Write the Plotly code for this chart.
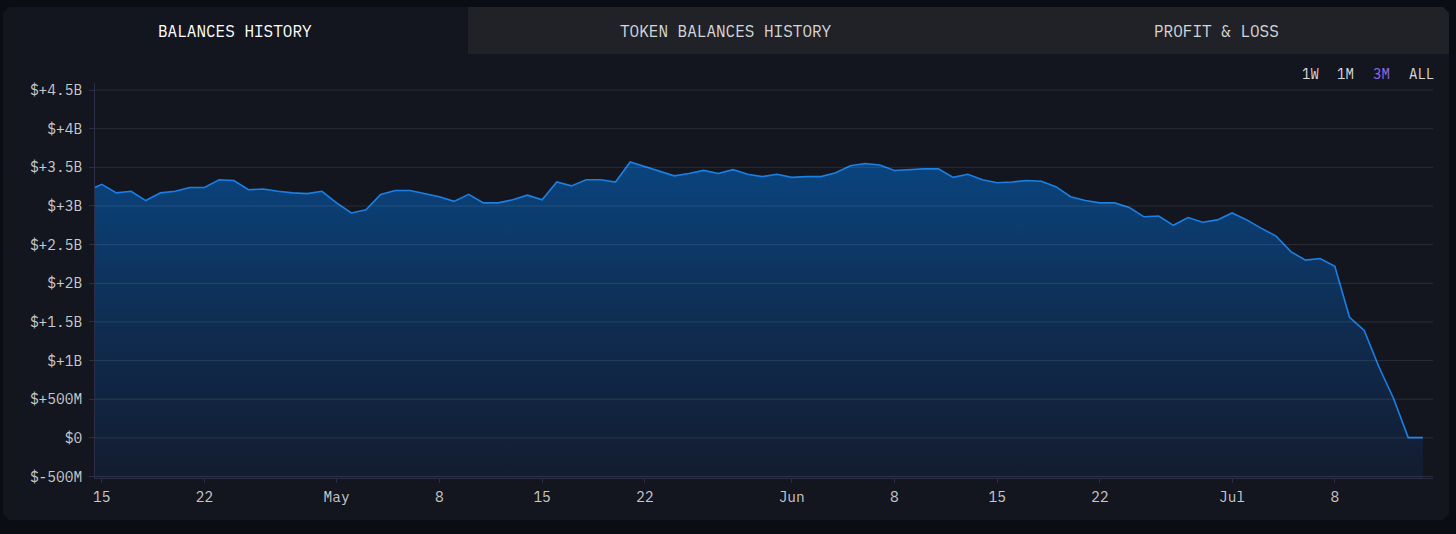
import pandas as pd
import plotly.graph_objects as go

# ---------------- data ----------------
first_point = ["2023-04-14 13:00"]
daily_points = [d.strftime("%Y-%m-%d") for d in pd.date_range("2023-04-15", "2023-07-14", freq="D")]
dates = first_point + daily_points

balance_billions = [
    3.24, 3.28, 3.17, 3.19, 3.07, 3.17, 3.19, 3.24, 3.24, 3.34,
    3.33, 3.21, 3.22, 3.19, 3.17, 3.16, 3.19, 3.04, 2.91, 2.95,
    3.15, 3.20, 3.20, 3.16, 3.12, 3.06, 3.15, 3.04, 3.04, 3.08,
    3.14, 3.08, 3.31, 3.26, 3.34, 3.34, 3.31, 3.57, 3.51, 3.46,
    3.39, 3.42, 3.46, 3.42, 3.47, 3.41, 3.38, 3.41, 3.37, 3.38,
    3.38, 3.43, 3.52, 3.55, 3.53, 3.46, 3.47, 3.48, 3.48, 3.37,
    3.41, 3.34, 3.30, 3.31, 3.33, 3.32, 3.25, 3.12, 3.07, 3.04,
    3.04, 2.98, 2.86, 2.87, 2.75, 2.85, 2.79, 2.82, 2.91, 2.82,
    2.71, 2.61, 2.41, 2.30, 2.32, 2.22, 1.56, 1.39, 0.92, 0.51,
    0.003, 0.003,
]
balances = [v * 1e9 for v in balance_billions]

y_tickvals = [-0.5e9, 0, 0.5e9, 1e9, 1.5e9, 2e9, 2.5e9, 3e9, 3.5e9, 4e9, 4.5e9]
y_ticktext = ["$-500M", "$0", "$+500M", "$+1B", "$+1.5B", "$+2B", "$+2.5B",
              "$+3B", "$+3.5B", "$+4B", "$+4.5B"]

x_tickvals = ["2023-04-15", "2023-04-22", "2023-05-01", "2023-05-08", "2023-05-15",
              "2023-05-22", "2023-06-01", "2023-06-08", "2023-06-15", "2023-06-22",
              "2023-07-01", "2023-07-08"]
x_ticktext = ["15", "22", "May", "8", "15", "22", "Jun", "8", "15", "22", "Jul", "8"]

tabs = ["BALANCES HISTORY", "TOKEN BALANCES HISTORY", "PROFIT & LOSS"]
ranges = ["1W", "1M", "3M", "ALL"]

# ---------------- layout geometry ----------------
W, H = 1456, 534
L, R, T, B = 95, 1433, 83, 478
Y_MIN, Y_MAX = -0.519e9, 4.591e9
FONT = "IBM Plex Mono, DejaVu Sans Mono, monospace"

OUTER_BG = "#0b0d15"
PANEL_BG = "#14161f"
TAB_BG = "#212227"
AXIS_COL = "#2c2e48"


def px(x):
    return (x - L) / (R - L)


def py(y):
    return (B - y) / (B - T)


def path(points):
    s = "M " + " L ".join(f"{px(x):.6f},{py(y):.6f}" for x, y in points) + " Z"
    return s


c = 6
panel_pts = [(3 + c, 7), (1449 - c, 7), (1449, 7 + c), (1449, 520 - c),
             (1449 - c, 520), (3 + c, 520), (3, 520 - c), (3, 7 + c)]
tabbar_pts = [(468, 7), (1449 - c, 7), (1449, 7 + c), (1449, 54), (468, 54)]

fig = go.Figure()

# baseline at the bottom of the plot so the area fills to the pane bottom
fig.add_trace(go.Scatter(
    x=dates, y=[Y_MIN] * len(dates), mode="lines",
    line=dict(width=0, color="rgba(0,0,0,0)"), hoverinfo="skip", showlegend=False,
))
fig.add_trace(go.Scatter(
    x=dates, y=balances, mode="lines",
    line=dict(color="#1a80e6", width=1.6),
    fill="tonexty",
    fillgradient=dict(
        type="vertical",
        colorscale=[[0, "rgb(19,28,48)"], [0.45, "rgb(15,43,78)"], [1, "rgb(10,68,126)"]],
    ),
    showlegend=False, hoverinfo="skip",
))

shapes = [
    dict(type="path", xref="paper", yref="paper", path=path(panel_pts),
         fillcolor=PANEL_BG, line=dict(width=0), layer="below"),
    dict(type="path", xref="paper", yref="paper", path=path(tabbar_pts),
         fillcolor=TAB_BG, line=dict(width=0), layer="below"),
]
for v in y_tickvals:
    shapes.append(dict(type="line", xref="paper", yref="y", x0=0, x1=1, y0=v, y1=v,
                       line=dict(color="rgba(255,255,255,0.10)", width=1), layer="above"))

annotations = []
tab_centers = [235, 726, 1216]
tab_colors = ["#ffffff", "#d6d6d9", "#d6d6d9"]
for t, cx, col in zip(tabs, tab_centers, tab_colors):
    annotations.append(dict(text=t, x=px(cx), y=py(31), xref="paper", yref="paper",
                            showarrow=False, xanchor="center", yanchor="middle",
                            font=dict(family=FONT, size=16, color=col)))
btn_centers = [1310, 1345, 1381, 1421]
btn_colors = ["#d9d9dc", "#d9d9dc", "#8f6be8", "#d9d9dc"]
for t, cx, col in zip(ranges, btn_centers, btn_colors):
    annotations.append(dict(text=t, x=px(cx), y=py(73.5), xref="paper", yref="paper",
                            showarrow=False, xanchor="center", yanchor="middle",
                            font=dict(family=FONT, size=14, color=col)))

fig.update_layout(
    width=W, height=H,
    margin=dict(l=L, r=W - R, t=T, b=H - B, pad=0),
    paper_bgcolor=OUTER_BG,
    plot_bgcolor="rgba(0,0,0,0)",
    shapes=shapes,
    annotations=annotations,
    showlegend=False,
    xaxis=dict(
        type="date",
        range=["2023-04-14 13:00", "2023-07-14 16:30"],
        tickvals=x_tickvals, ticktext=x_ticktext,
        ticks="outside", ticklen=4, tickcolor=AXIS_COL, tickwidth=1,
        showline=True, linecolor=AXIS_COL, linewidth=1,
        showgrid=False, zeroline=False,
        ticklabelstandoff=2,
        tickfont=dict(family=FONT, size=14.5, color="#c9c9cc"),
        fixedrange=True,
    ),
    yaxis=dict(
        range=[Y_MIN, Y_MAX],
        tickvals=y_tickvals, ticktext=y_ticktext,
        ticks="outside", ticklen=5, tickcolor=AXIS_COL, tickwidth=1,
        showline=True, linecolor=AXIS_COL, linewidth=1,
        showgrid=False, zeroline=False,
        ticklabelstandoff=4,
        tickfont=dict(family=FONT, size=14.5, color="#c9c9cc"),
        fixedrange=True,
    ),
)

fig.write_html("out.html", config={"displayModeBar": False})
